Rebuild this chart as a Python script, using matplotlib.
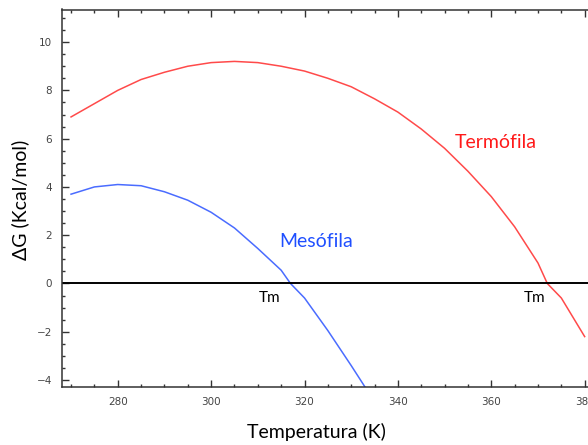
import numpy as np
import matplotlib
matplotlib.use('Agg')
import matplotlib.pyplot as plt
from matplotlib.ticker import MultipleLocator

# temperatures (K) and free energy (kcal/mol)
temp_termo = [270, 275, 280, 285, 290, 295, 300, 305, 310, 315, 320, 325,
              330, 335, 340, 345, 350, 355, 360, 365, 370, 372, 375, 380]
dg_termo = [6.9, 7.45, 8.0, 8.45, 8.75, 9.0, 9.15, 9.2, 9.15, 9.0, 8.8, 8.5,
            8.15, 7.65, 7.1, 6.4, 5.6, 4.65, 3.6, 2.35, 0.85, 0.0, -0.6, -2.2]

temp_meso = [270, 275, 280, 285, 290, 295, 300, 305, 310, 315, 317, 320,
             325, 330, 333]
dg_meso = [3.7, 4.0, 4.1, 4.05, 3.8, 3.45, 2.95, 2.3, 1.45, 0.55, 0.0, -0.6,
           -1.95, -3.4, -4.3]

tm_termo = 372
tm_meso = 317

fig = plt.figure(figsize=(5.88, 4.45), dpi=100)
ax = fig.add_axes([61.7 / 588, 1 - 387.3 / 445, (594 - 61.7) / 588, (387.3 - 9.5) / 445])

ax.plot(temp_termo, dg_termo, color='#ff4a4a', lw=1.1)
ax.plot(temp_meso, dg_meso, color='#4a6cff', lw=1.1)
ax.axhline(0, color='black', lw=1.4)

ax.set_xlim(268, 382)
ax.set_ylim(-4.3, 11.35)

ax.xaxis.set_major_locator(MultipleLocator(20))
ax.xaxis.set_minor_locator(MultipleLocator(5))
ax.yaxis.set_major_locator(MultipleLocator(2))
ax.yaxis.set_minor_locator(MultipleLocator(0.5))
ax.tick_params(which='both', direction='in', top=True, right=False,
               colors='#333333', labelcolor='#444444', labelsize=7.5)
ax.tick_params(which='major', length=5, width=1, pad=7)
ax.tick_params(which='minor', length=2.5, width=1)
for side in ['left', 'bottom', 'top']:
    ax.spines[side].set_color('#333333')
    ax.spines[side].set_linewidth(1.1)
ax.spines['right'].set_visible(False)

lab_font = ['Lato', 'DejaVu Sans']
ax.set_ylabel('ΔG (Kcal/mol)', fontsize=14, family=lab_font, va='center')
ax.set_xlabel('Temperatura (K)', fontsize=14, family=lab_font, va='center')
ax.xaxis.set_label_coords((316 - 61.7) / (594 - 61.7), (387.3 - 432) / 378)
ax.yaxis.set_label_coords((20 - 61.7) / (594 - 61.7), (387.3 - 200) / 378)

ax.text(361, 5.85, 'Termófila', color='#ff1a1a', fontsize=14,
        family=lab_font, ha='center', va='center')
ax.text(322.5, 1.75, 'Mesófila', color='#1f4fff', fontsize=14,
        family=lab_font, ha='center', va='center')
ax.text(tm_meso - 4.5, -0.6, 'Tm', color='black', fontsize=11,
        family=lab_font, ha='center', va='center')
ax.text(tm_termo - 2.7, -0.6, 'Tm', color='black', fontsize=11,
        family=lab_font, ha='center', va='center')

fig.savefig('out.png', dpi=100)
